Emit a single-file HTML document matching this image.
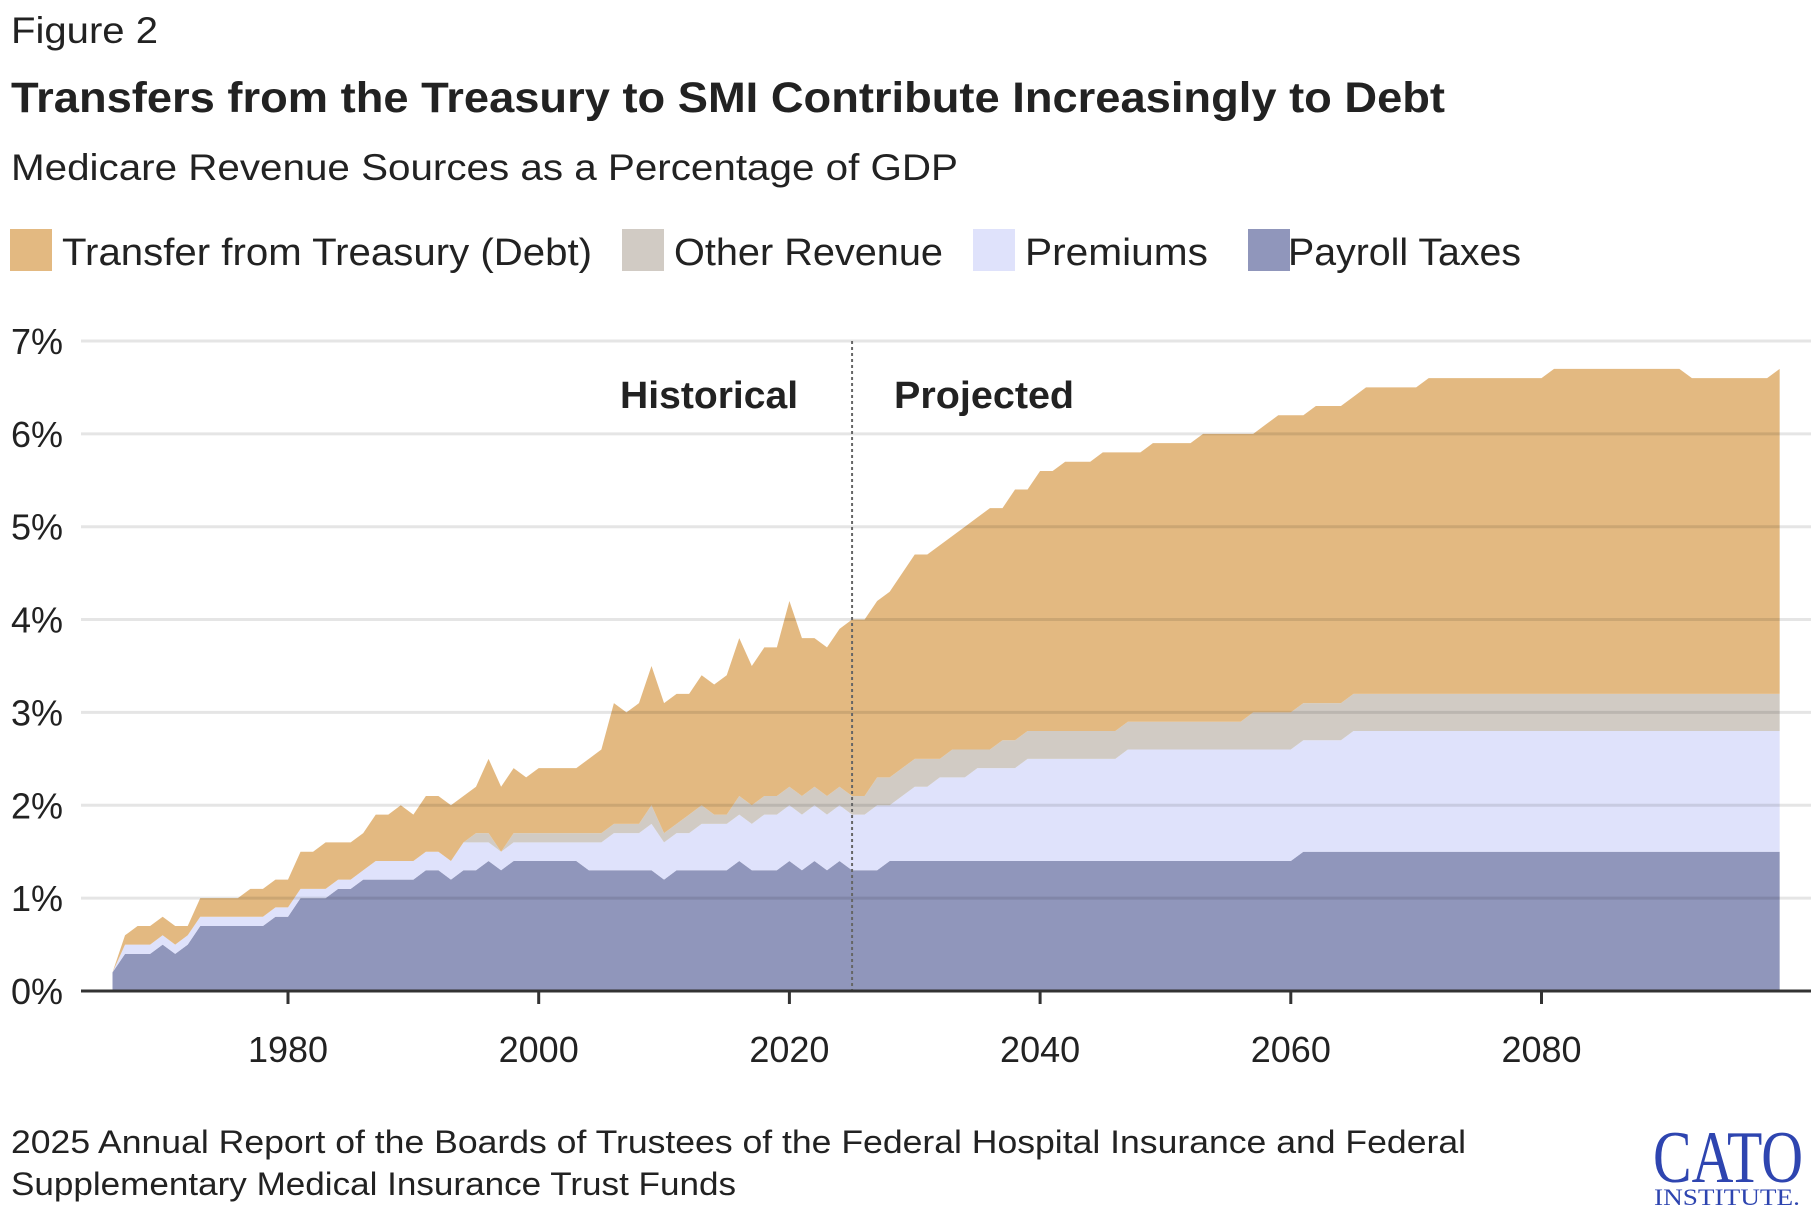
<!DOCTYPE html>
<html><head><meta charset="utf-8">
<style>
html,body{margin:0;padding:0;background:#fff;}
svg{display:block;font-family:"Liberation Sans",sans-serif;}
</style></head>
<body>
<svg id="chart" width="1820" height="1220" viewBox="0 0 1820 1220" xmlns="http://www.w3.org/2000/svg">
  <text x="11" y="43" font-size="37" fill="#222" textLength="147" lengthAdjust="spacingAndGlyphs">Figure 2</text>
  <text x="11" y="112" font-size="43" font-weight="bold" fill="#222" textLength="1434" lengthAdjust="spacingAndGlyphs">Transfers from the Treasury to SMI Contribute Increasingly to Debt</text>
  <text x="11" y="180" font-size="37" fill="#222" textLength="947" lengthAdjust="spacingAndGlyphs">Medicare Revenue Sources as a Percentage of GDP</text>
  <g>
    <g>
      <rect x="10" y="229" width="42" height="42" fill="#e3b981"/>
      <text x="62" y="265" font-size="38" fill="#222" textLength="530" lengthAdjust="spacingAndGlyphs">Transfer from Treasury (Debt)</text>
    </g>
    <g>
      <rect x="622" y="229" width="42" height="42" fill="#d1cbc4"/>
      <text x="674" y="265" font-size="38" fill="#222" textLength="269" lengthAdjust="spacingAndGlyphs">Other Revenue</text>
    </g>
    <g>
      <rect x="973" y="229" width="42" height="42" fill="#dfe2fb"/>
      <text x="1025" y="265" font-size="38" fill="#222" textLength="183" lengthAdjust="spacingAndGlyphs">Premiums</text>
    </g>
    <g>
      <rect x="1248" y="229" width="42" height="42" fill="#9096bb"/>
      <text x="1288" y="265" font-size="38" fill="#222" textLength="233" lengthAdjust="spacingAndGlyphs">Payroll Taxes</text>
    </g>
  </g>
  <g id="plot"></g>
  <text x="11" y="1153" font-size="32" fill="#222" textLength="1455" lengthAdjust="spacingAndGlyphs">2025 Annual Report of the Boards of Trustees of the Federal Hospital Insurance and Federal</text>
  <text x="11" y="1195" font-size="32" fill="#222" textLength="725" lengthAdjust="spacingAndGlyphs">Supplementary Medical Insurance Trust Funds</text>
  <g>
    <text x="1653" y="1182" font-family="Liberation Serif, serif" font-size="74" fill="#2e45b0" textLength="150" lengthAdjust="spacingAndGlyphs">CATO</text>
    <text x="1654" y="1205" font-family="Liberation Serif, serif" font-size="23" fill="#2e45b0" textLength="146" lengthAdjust="spacingAndGlyphs">INSTITUTE.</text>
  </g>
</svg>
<script>
const startYear = 1966;
const payrollTaxes = [
0.2,0.4,0.4,0.4,0.5,0.4,0.5,0.7,0.7,0.7,
0.7,0.7,0.7,0.8,0.8,1.0,1.0,1.0,1.1,1.1,
1.2,1.2,1.2,1.2,1.2,1.3,1.3,1.2,1.3,1.3,
1.4,1.3,1.4,1.4,1.4,1.4,1.4,1.4,1.3,
1.3,1.3,1.3,1.3,1.3,1.2,1.3,1.3,1.3,1.3,
1.3,1.4,1.3,1.3,1.3,1.4,1.3,1.4,1.3,1.4,1.3,
1.3,1.3,1.4,1.4,1.4,1.4,1.4,1.4,1.4,1.4,
1.4,1.4,1.4,1.4,1.4,1.4,1.4,1.4,1.4,1.4,
1.4,1.4,1.4,1.4,1.4,1.4,1.4,1.4,1.4,1.4,
1.4,1.4,1.4,1.4,1.4,1.5,1.5,1.5,1.5,1.5,
1.5,1.5,1.5,1.5,1.5,1.5,1.5,1.5,1.5,1.5,
1.5,1.5,1.5,1.5,1.5,1.5,1.5,1.5,1.5,1.5,
1.5,1.5,1.5,1.5,1.5,1.5,1.5,1.5,1.5,1.5,
1.5,1.5,1.5,1.5];
const premiums = [
0.0,0.1,0.1,0.1,0.1,0.1,0.1,0.1,0.1,0.1,
0.1,0.1,0.1,0.1,0.1,0.1,0.1,0.1,0.1,0.1,
0.1,0.2,0.2,0.2,0.2,0.2,0.2,0.2,0.3,0.3,
0.2,0.2,0.2,0.2,0.2,0.2,0.2,0.2,0.3,
0.3,0.4,0.4,0.4,0.5,0.4,0.4,0.4,0.5,0.5,
0.5,0.5,0.5,0.6,0.6,0.6,0.6,0.6,0.6,0.6,0.6,
0.6,0.7,0.6,0.7,0.8,0.8,0.9,0.9,0.9,1.0,
1.0,1.0,1.0,1.1,1.1,1.1,1.1,1.1,1.1,1.1,
1.1,1.2,1.2,1.2,1.2,1.2,1.2,1.2,1.2,1.2,
1.2,1.2,1.2,1.2,1.2,1.2,1.2,1.2,1.2,1.3,
1.3,1.3,1.3,1.3,1.3,1.3,1.3,1.3,1.3,1.3,
1.3,1.3,1.3,1.3,1.3,1.3,1.3,1.3,1.3,1.3,
1.3,1.3,1.3,1.3,1.3,1.3,1.3,1.3,1.3,1.3,
1.3,1.3,1.3,1.3];
const otherRevenue = [
0,0,0,0,0,0,0,0,0,0,
0,0,0,0,0,0,0,0,0,0,
0,0,0,0,0,0,0,0,0,0.1,
0.1,0,0.1,0.1,0.1,0.1,0.1,0.1,0.1,
0.1,0.1,0.1,0.1,0.2,0.1,0.1,0.2,0.2,0.1,
0.1,0.2,0.2,0.2,0.2,0.2,0.2,0.2,0.2,0.2,0.2,
0.2,0.3,0.3,0.3,0.3,0.3,0.2,0.3,0.3,0.2,
0.2,0.3,0.3,0.3,0.3,0.3,0.3,0.3,0.3,0.3,
0.3,0.3,0.3,0.3,0.3,0.3,0.3,0.3,0.3,0.3,
0.3,0.4,0.4,0.4,0.4,0.4,0.4,0.4,0.4,0.4,
0.4,0.4,0.4,0.4,0.4,0.4,0.4,0.4,0.4,0.4,
0.4,0.4,0.4,0.4,0.4,0.4,0.4,0.4,0.4,0.4,
0.4,0.4,0.4,0.4,0.4,0.4,0.4,0.4,0.4,0.4,
0.4,0.4,0.4,0.4];
const treasuryTransfer = [
0.0,0.1,0.2,0.2,0.2,0.2,0.1,0.2,0.2,0.2,
0.2,0.3,0.3,0.3,0.3,0.4,0.4,0.5,0.4,0.4,
0.4,0.5,0.5,0.6,0.5,0.6,0.6,0.6,0.5,0.5,
0.8,0.7,0.7,0.6,0.7,0.7,0.7,0.7,0.8,
0.9,1.3,1.2,1.3,1.5,1.4,1.4,1.3,1.4,1.4,
1.5,1.7,1.5,1.6,1.6,2.0,1.7,1.6,1.6,1.7,1.9,
1.9,1.9,2.0,2.1,2.2,2.2,2.3,2.3,2.4,2.5,
2.6,2.5,2.7,2.6,2.8,2.8,2.9,2.9,2.9,3.0,
3.0,2.9,2.9,3.0,3.0,3.0,3.0,3.1,3.1,3.1,
3.1,3.0,3.1,3.2,3.2,3.1,3.2,3.2,3.2,3.2,
3.3,3.3,3.3,3.3,3.3,3.4,3.4,3.4,3.4,3.4,
3.4,3.4,3.4,3.4,3.4,3.5,3.5,3.5,3.5,3.5,
3.5,3.5,3.5,3.5,3.5,3.5,3.4,3.4,3.4,3.4,
3.4,3.4,3.4,3.5];
const yTicks = [0,1,2,3,4,5,6,7];
const xTicks = [1980,2000,2020,2040,2060,2080];
const projectionYear = 2025;

const NS = "http://www.w3.org/2000/svg";
const plot = document.getElementById('plot');
const X0 = 288, X1980 = 1980, PXYR = 12.535;
const Y0 = 991, PXPCT = 92.86;
function xs(yr){ return X0 + (yr - X1980) * PXYR; }
function ys(v){ return Y0 - v * PXPCT; }
function mk(tag, attrs){ const e = document.createElementNS(NS, tag); for (const k in attrs) e.setAttribute(k, attrs[k]); plot.appendChild(e); return e; }

const layers = [payrollTaxes, premiums, otherRevenue, treasuryTransfer];
const colors = ['#9096bb','#dfe2fb','#d1cbc4','#e3b981'];
const layerNames = ['area-payroll-taxes','area-premiums','area-other-revenue','area-treasury-transfer'];
const n = Math.min(payrollTaxes.length, premiums.length, otherRevenue.length, treasuryTransfer.length);
let base = new Array(n).fill(0);
layers.forEach((arr, li) => {
  const top = base.map((b, i) => b + arr[i]);
  let d = '';
  for (let i = 0; i < n; i++) d += (i ? 'L' : 'M') + xs(startYear + i).toFixed(2) + ',' + ys(top[i]).toFixed(2);
  for (let i = n - 1; i >= 0; i--) d += 'L' + xs(startYear + i).toFixed(2) + ',' + ys(base[i]).toFixed(2);
  const p = mk('path', {d: d + 'Z', fill: colors[li]});
  
  
  base = top;
});

yTicks.forEach(t => {
  if (t > 0) {
    const g = mk('line', {x1: 81, x2: 1811, y1: ys(t), y2: ys(t), stroke: 'rgba(0,0,0,0.1)', 'stroke-width': 3});
    
    
  }
  const tx = mk('text', {x: 11, y: ys(t) + 13, 'font-size': 36, fill: '#222'});
  
  
  tx.textContent = t + '%';
});

const dl = mk('line', {x1: xs(projectionYear), x2: xs(projectionYear), y1: ys(7), y2: Y0, stroke: '#666', 'stroke-width': 2, 'stroke-dasharray': '3,3'});


const h = mk('text', {x: xs(projectionYear) - 54, y: 408, 'font-size': 38, 'font-weight': 'bold', fill: '#222', 'text-anchor': 'end', textLength: 178, lengthAdjust: 'spacingAndGlyphs'});


h.textContent = 'Historical';
const pj = mk('text', {x: xs(projectionYear) + 42, y: 408, 'font-size': 38, 'font-weight': 'bold', fill: '#222', textLength: 180, lengthAdjust: 'spacingAndGlyphs'});


pj.textContent = 'Projected';

const ax = mk('line', {x1: 81, x2: 1811, y1: Y0, y2: Y0, stroke: '#333', 'stroke-width': 3});


xTicks.forEach(t => {
  const tk = mk('line', {x1: xs(t), x2: xs(t), y1: Y0, y2: Y0 + 13, stroke: '#333', 'stroke-width': 3});
  
  
  const lb = mk('text', {x: xs(t), y: 1062, 'font-size': 36, fill: '#222', 'text-anchor': 'middle'});
  
  
  lb.textContent = t;
});
</script>
</body></html>
